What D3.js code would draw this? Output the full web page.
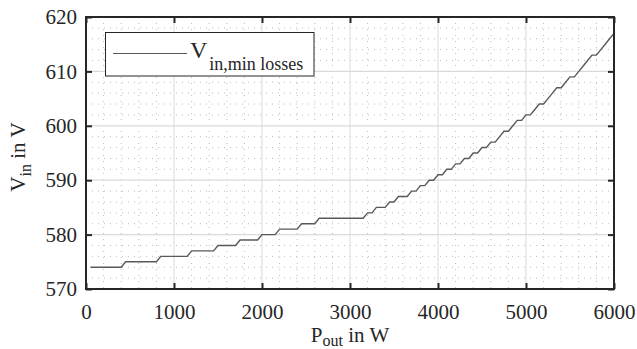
<!DOCTYPE html>
<html><head><meta charset="utf-8">
<script src="https://cdn.jsdelivr.net/npm/d3@7"></script>
<style>
body{margin:0;background:#fff}
svg{display:block}
text{font-family:"Liberation Serif","Times New Roman",serif;fill:#262626}
</style>
</head><body>
<svg id="c" width="637" height="349"></svg>
<script>
// Polyline vertices (P_out in W, V_in in V)
const pOut = [50,400,450,800,850,1150,1200,1450,1500,1700,1750,1950,2000,2150,2200,2400,2450,2600,2650,3150,
  3200,3250,3300,3400,3450,3500,3550,3650,3700,3750,3800,3850,3900,3950,4000,4050,4100,4150,4200,4250,
  4300,4350,4400,4450,4500,4550,4600,4650,4700,4750,4800,4850,4900,4950,5000,5050,5100,5150,5200,5250,
  5300,5350,5400,5450,5500,5550,5600,5650,5700,5750,5800,5850,5900,5950,6000];
const vIn = [574,574,575,575,576,576,577,577,578,578,579,579,580,580,581,581,582,582,583,583,
  584,584,585,585,586,586,587,587,588,588,589,589,590,590,591,591,592,592,593,593,
  594,594,595,595,596,596,597,597,598,599,599,600,601,601,602,602,603,604,604,605,
  606,607,607,608,609,609,610,611,612,613,613,614,615,616,617];
const xTickValues = [0,1000,2000,3000,4000,5000,6000];
const yTickValues = [570,580,590,600,610,620];
const legendLabel = {main:"V", sub:"in,min losses"};
const xLabel = {main:"P", sub:"out", rest:" in W"};
const yLabel = {main:"V", sub:"in", rest:" in V"};

const svg = d3.select("#c");
const L = 86, R = 614, T = 17, B = 289;
const x = d3.scaleLinear().domain([0,6000]).range([L,R]);
const y = d3.scaleLinear().domain([570,620]).range([B,T]);

svg.append("rect").attr("width",637).attr("height",349).attr("fill","#fff");

// minor grid
const xMinor = d3.range(0,6001,200).filter(v=>v%1000!==0);
const yMinor = d3.range(570,620.1,2).filter(v=>v%10!==0);
const g = svg.append("g");
g.selectAll(".mx").data(xMinor).join("line")
  .attr("x1",d=>x(d)).attr("x2",d=>x(d)).attr("y1",T).attr("y2",B)
  .attr("stroke","#bdbdbd").attr("stroke-width",1).attr("stroke-dasharray","1,5");
g.selectAll(".my").data(yMinor).join("line")
  .attr("y1",d=>y(d)).attr("y2",d=>y(d)).attr("x1",L).attr("x2",R)
  .attr("stroke","#bdbdbd").attr("stroke-width",1).attr("stroke-dasharray","1,5");
// major grid
g.selectAll(".Mx").data(xTickValues).join("line")
  .attr("x1",d=>x(d)).attr("x2",d=>x(d)).attr("y1",T).attr("y2",B)
  .attr("stroke","#dadada").attr("stroke-width",1);
g.selectAll(".My").data(yTickValues).join("line")
  .attr("y1",d=>y(d)).attr("y2",d=>y(d)).attr("x1",L).attr("x2",R)
  .attr("stroke","#dadada").attr("stroke-width",1.3);

// data line
const pts = pOut.map((p,i)=>[p,vIn[i]]);
svg.append("path").datum(pts)
  .attr("d", d3.line().x(d=>x(d[0])).y(d=>y(d[1])))
  .attr("fill","none").attr("stroke","#595959").attr("stroke-width",1.4);

// axes
const fs = 21;
const ax = svg.append("g").attr("transform",`translate(0,${B})`)
  .call(d3.axisBottom(x).tickValues(xTickValues).tickFormat(d3.format("d")).tickSizeInner(-6).tickSizeOuter(0).tickPadding(15));
const ay = svg.append("g").attr("transform",`translate(${L},0)`)
  .call(d3.axisLeft(y).tickValues(yTickValues).tickFormat(d3.format("d")).tickSizeInner(-6).tickSizeOuter(0).tickPadding(9));
const at = svg.append("g").attr("transform",`translate(0,${T})`)
  .call(d3.axisTop(x).tickValues(xTickValues).tickFormat("").tickSizeInner(-6).tickSizeOuter(0));
const ar = svg.append("g").attr("transform",`translate(${R},0)`)
  .call(d3.axisRight(y).tickValues(yTickValues).tickFormat("").tickSizeInner(-6).tickSizeOuter(0));
[ax,ay,at,ar].forEach(a=>{
  a.attr("font-family",null);
  a.select(".domain").remove();
  a.selectAll(".tick line").attr("stroke","#262626").attr("stroke-width",2);
  a.selectAll("text").attr("font-size",fs).attr("font-family","Liberation Serif").attr("fill","#262626");
});
svg.append("rect").attr("x",L).attr("y",T).attr("width",R-L).attr("height",B-T)
  .attr("fill","none").attr("stroke","#262626").attr("stroke-width",2);

// axis labels
const xl = svg.append("text").attr("x",(L+R)/2).attr("y",342).attr("text-anchor","middle").attr("font-size",fs);
xl.append("tspan").text(xLabel.main);
xl.append("tspan").attr("font-size",16).attr("dy",4).text(xLabel.sub);
xl.append("tspan").attr("dy",-4).text(xLabel.rest);

const yl = svg.append("text").attr("transform",`translate(25,157) rotate(-90)`).attr("text-anchor","middle").attr("font-size",fs);
yl.append("tspan").text(yLabel.main);
yl.append("tspan").attr("font-size",16).attr("dy",6).text(yLabel.sub);
yl.append("tspan").attr("dy",-6).text(yLabel.rest);

// legend
const lg = svg.append("g");
lg.append("rect").attr("x",105.5).attr("y",32.5).attr("width",208.5).attr("height",43.5)
  .attr("fill","#fff").attr("stroke","#262626").attr("stroke-width",1);
lg.append("line").attr("x1",113).attr("x2",187).attr("y1",53.5).attr("y2",53.5)
  .attr("stroke","#595959").attr("stroke-width",1.2);
const lt = lg.append("text").attr("x",190).attr("y",58).attr("font-size",24);
lt.append("tspan").text(legendLabel.main);
lt.append("tspan").attr("font-size",18).attr("dy",11.5).attr("dx",2).text(legendLabel.sub);
</script>
</body></html>
